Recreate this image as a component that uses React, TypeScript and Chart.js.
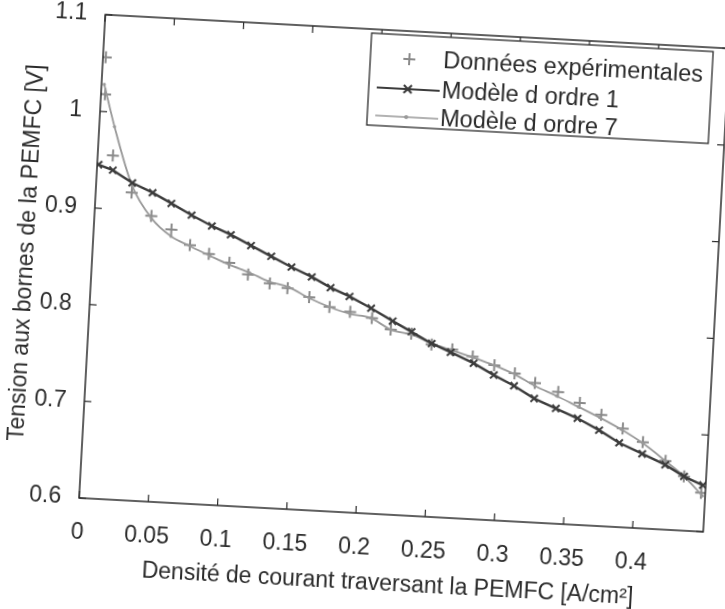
import React, { useEffect, useRef } from "react";
import { Chart, registerables } from "chart.js";

Chart.register(...registerables);

// ---- Data ----
const dataX = [0.002, 0.003, 0.011, 0.026, 0.041, 0.056, 0.070, 0.084, 0.099, 0.113, 0.129, 0.142, 0.158, 0.173, 0.188, 0.204, 0.218, 0.233, 0.248, 0.263, 0.278, 0.294, 0.309, 0.324, 0.341, 0.357, 0.373, 0.389, 0.404, 0.421, 0.435, 0.448];
const dataV = [1.056, 1.018, 0.955, 0.918, 0.895, 0.882, 0.867, 0.859, 0.851, 0.840, 0.832, 0.828, 0.820, 0.811, 0.807, 0.802, 0.791, 0.788, 0.778, 0.774, 0.768, 0.760, 0.753, 0.744, 0.736, 0.726, 0.715, 0.702, 0.689, 0.671, 0.656, 0.640];

const model1X = [0.001, 0.0115, 0.026, 0.041, 0.055, 0.070, 0.085, 0.099, 0.114, 0.129, 0.144, 0.159, 0.173, 0.187, 0.203, 0.219, 0.233, 0.248, 0.262, 0.279, 0.294, 0.309, 0.324, 0.340, 0.356, 0.372, 0.387, 0.404, 0.421, 0.435, 0.449];
const model1V = [0.945, 0.940, 0.928, 0.919, 0.909, 0.898, 0.888, 0.880, 0.870, 0.860, 0.850, 0.841, 0.831, 0.823, 0.812, 0.800, 0.790, 0.779, 0.771, 0.761, 0.750, 0.740, 0.728, 0.719, 0.710, 0.699, 0.687, 0.677, 0.667, 0.656, 0.648];

const model7X = [0.002, 0.011, 0.026, 0.041, 0.056, 0.070, 0.085, 0.099, 0.114, 0.128, 0.143, 0.158, 0.173, 0.188, 0.203, 0.218, 0.233, 0.248, 0.263, 0.278, 0.294, 0.309, 0.324, 0.340, 0.356, 0.372, 0.388, 0.404, 0.420, 0.435, 0.449];
const model7V = [1.028, 0.985, 0.925, 0.893, 0.875, 0.866, 0.857, 0.849, 0.842, 0.834, 0.829, 0.819, 0.811, 0.805, 0.802, 0.791, 0.787, 0.779, 0.773, 0.767, 0.760, 0.752, 0.741, 0.732, 0.722, 0.712, 0.701, 0.688, 0.672, 0.656, 0.637];

const xTicks = [0, 0.05, 0.1, 0.15, 0.2, 0.25, 0.3, 0.35, 0.4];
const yTicks = [0.6, 0.7, 0.8, 0.9, 1, 1.1];
const xMin = 0;
const xMax = 0.451;
const yMin = 0.6;
const yMax = 1.1;

const legendLabels = ["Données expérimentales", "Modèle d ordre 1", "Modèle d ordre 7"];
const xTitle = "Densité de courant traversant la PEMFC [A/cm²]";
const yTitle = "Tension aux bornes de la PEMFC [V]";

const FONT = '"Liberation Sans", Arial, sans-serif';
const TEXT = "#2b2b2b";
const C_DATA = "#8a8a8a";
const C_M1 = "#3c3c3c";
const C_M7 = "#999999";

function toPoints(xs: number[], ys: number[]) {
  return xs.map((x, i) => ({ x, y: ys[i] }));
}

const framePlugin = {
  id: "frameLegend",
  afterDraw(chart: any) {
    const { ctx, chartArea: a, scales } = chart;
    ctx.save();
    ctx.strokeStyle = "#2b2b2b";
    ctx.lineWidth = 1.5;
    ctx.strokeRect(a.left, a.top, a.right - a.left, a.bottom - a.top);
    const tl = 7;
    const line = (x1: number, y1: number, x2: number, y2: number) => {
      ctx.beginPath();
      ctx.moveTo(x1, y1);
      ctx.lineTo(x2, y2);
      ctx.stroke();
    };
    ctx.lineWidth = 1.2;
    xTicks.forEach((v) => {
      const p = scales.x.getPixelForValue(v);
      line(p, a.bottom, p, a.bottom - tl);
      line(p, a.top, p, a.top + tl);
    });
    yTicks.forEach((v) => {
      const p = scales.y.getPixelForValue(v);
      line(a.left, p, a.left + tl, p);
      line(a.right, p, a.right - tl, p);
    });

    // legend
    const bw = 342;
    const bh = 92;
    const bx = a.right - 16 - bw;
    const by = a.top + 4;
    ctx.fillStyle = "#ffffff";
    ctx.fillRect(bx, by, bw, bh);
    ctx.lineWidth = 1.3;
    ctx.strokeStyle = "#2b2b2b";
    ctx.strokeRect(bx, by, bw, bh);
    const rows = [by + 24, by + 54, by + 82];
    const sx1 = bx + 8;
    const sx2 = bx + 71;
    const mx = bx + 39;
    // row 1: +
    ctx.strokeStyle = C_DATA;
    ctx.lineWidth = 2;
    line(mx - 6, rows[0], mx + 6, rows[0]);
    line(mx, rows[0] - 6, mx, rows[0] + 6);
    // row 2: line with x
    ctx.strokeStyle = C_M1;
    ctx.lineWidth = 2.2;
    line(sx1, rows[1], sx2, rows[1]);
    line(mx - 4, rows[1] - 4, mx + 4, rows[1] + 4);
    line(mx - 4, rows[1] + 4, mx + 4, rows[1] - 4);
    // row 3: line with dot
    ctx.strokeStyle = C_M7;
    ctx.lineWidth = 1.5;
    line(sx1, rows[2], sx2, rows[2]);
    ctx.fillStyle = C_M7;
    ctx.beginPath();
    ctx.arc(mx, rows[2], 2, 0, Math.PI * 2);
    ctx.fill();

    ctx.fillStyle = TEXT;
    ctx.font = `23.5px ${FONT}`;
    ctx.textBaseline = "middle";
    ctx.textAlign = "left";
    legendLabels.forEach((t, i) => ctx.fillText(t, bx + 73, rows[i] + 1));
    ctx.restore();
  },
};

export default function App() {
  const ref = useRef<HTMLCanvasElement | null>(null);

  useEffect(() => {
    if (!ref.current) return;
    const chart = new Chart(ref.current, {
      type: "scatter",
      data: {
        datasets: [
          {
            label: legendLabels[1],
            data: toPoints(model1X, model1V),
            showLine: true,
            borderColor: C_M1,
            borderWidth: 2.4,
            pointStyle: "crossRot",
            pointRadius: 5,
            pointBorderWidth: 2,
            pointBorderColor: C_M1,
            pointBackgroundColor: C_M1,
          },
          {
            label: legendLabels[2],
            data: toPoints(model7X, model7V),
            showLine: true,
            cubicInterpolationMode: "monotone",
            borderColor: C_M7,
            borderWidth: 1.8,
            pointStyle: "circle",
            pointRadius: 1.6,
            pointBorderWidth: 0,
            pointBackgroundColor: C_M7,
          },
          {
            label: legendLabels[0],
            data: toPoints(dataX, dataV),
            showLine: false,
            pointStyle: "cross",
            pointRadius: 6,
            pointBorderWidth: 2,
            pointBorderColor: C_DATA,
            borderColor: C_DATA,
          },
        ],
      },
      options: {
        animation: false,
        responsive: false,
        layout: { padding: { top: 29, right: 10, left: 0, bottom: 0 } },
        plugins: { legend: { display: false }, tooltip: { enabled: false } },
        scales: {
          x: {
            type: "linear",
            min: xMin,
            max: xMax,
            grid: { display: false },
            border: { display: false },
            afterBuildTicks: (s: any) => {
              s.ticks = xTicks.map((v) => ({ value: v }));
            },
            afterFit: (s: any) => {
              s.height = 96;
            },
            ticks: {
              color: TEXT,
              font: { family: FONT, size: 23 },
              padding: 13,
              maxRotation: 0,
              callback: (v: any) => String(Number(Number(v).toFixed(2))),
            },
            title: {
              display: true,
              text: xTitle,
              color: TEXT,
              font: { family: FONT, size: 23 },
              padding: { top: 0, bottom: 13 },
            },
          },
          y: {
            type: "linear",
            min: yMin,
            max: yMax,
            grid: { display: false },
            border: { display: false },
            afterBuildTicks: (s: any) => {
              s.ticks = yTicks.map((v) => ({ value: v }));
            },
            afterFit: (s: any) => {
              s.width = 90;
            },
            ticks: {
              color: TEXT,
              font: { family: FONT, size: 23 },
              padding: 10,
              callback: (v: any) => String(Number(Number(v).toFixed(2))),
            },
            title: {
              display: true,
              text: yTitle,
              color: TEXT,
              font: { family: FONT, size: 23 },
              padding: { top: 11, bottom: 0 },
            },
          },
        },
      },
      plugins: [framePlugin],
    } as any);
    return () => chart.destroy();
  }, []);

  return (
    <div
      style={{
        position: "absolute",
        left: 0,
        top: 0,
        width: 725,
        height: 609,
        overflow: "hidden",
        background: "#ffffff",
      }}
    >
      <div
        style={{
          width: 725,
          height: 609,
          transform: "rotate(3.1deg)",
          transformOrigin: "362.5px 304.5px",
        }}
      >
        <canvas ref={ref} width={725} height={609} style={{ display: "block", width: 725, height: 609 }} />
      </div>
    </div>
  );
}
